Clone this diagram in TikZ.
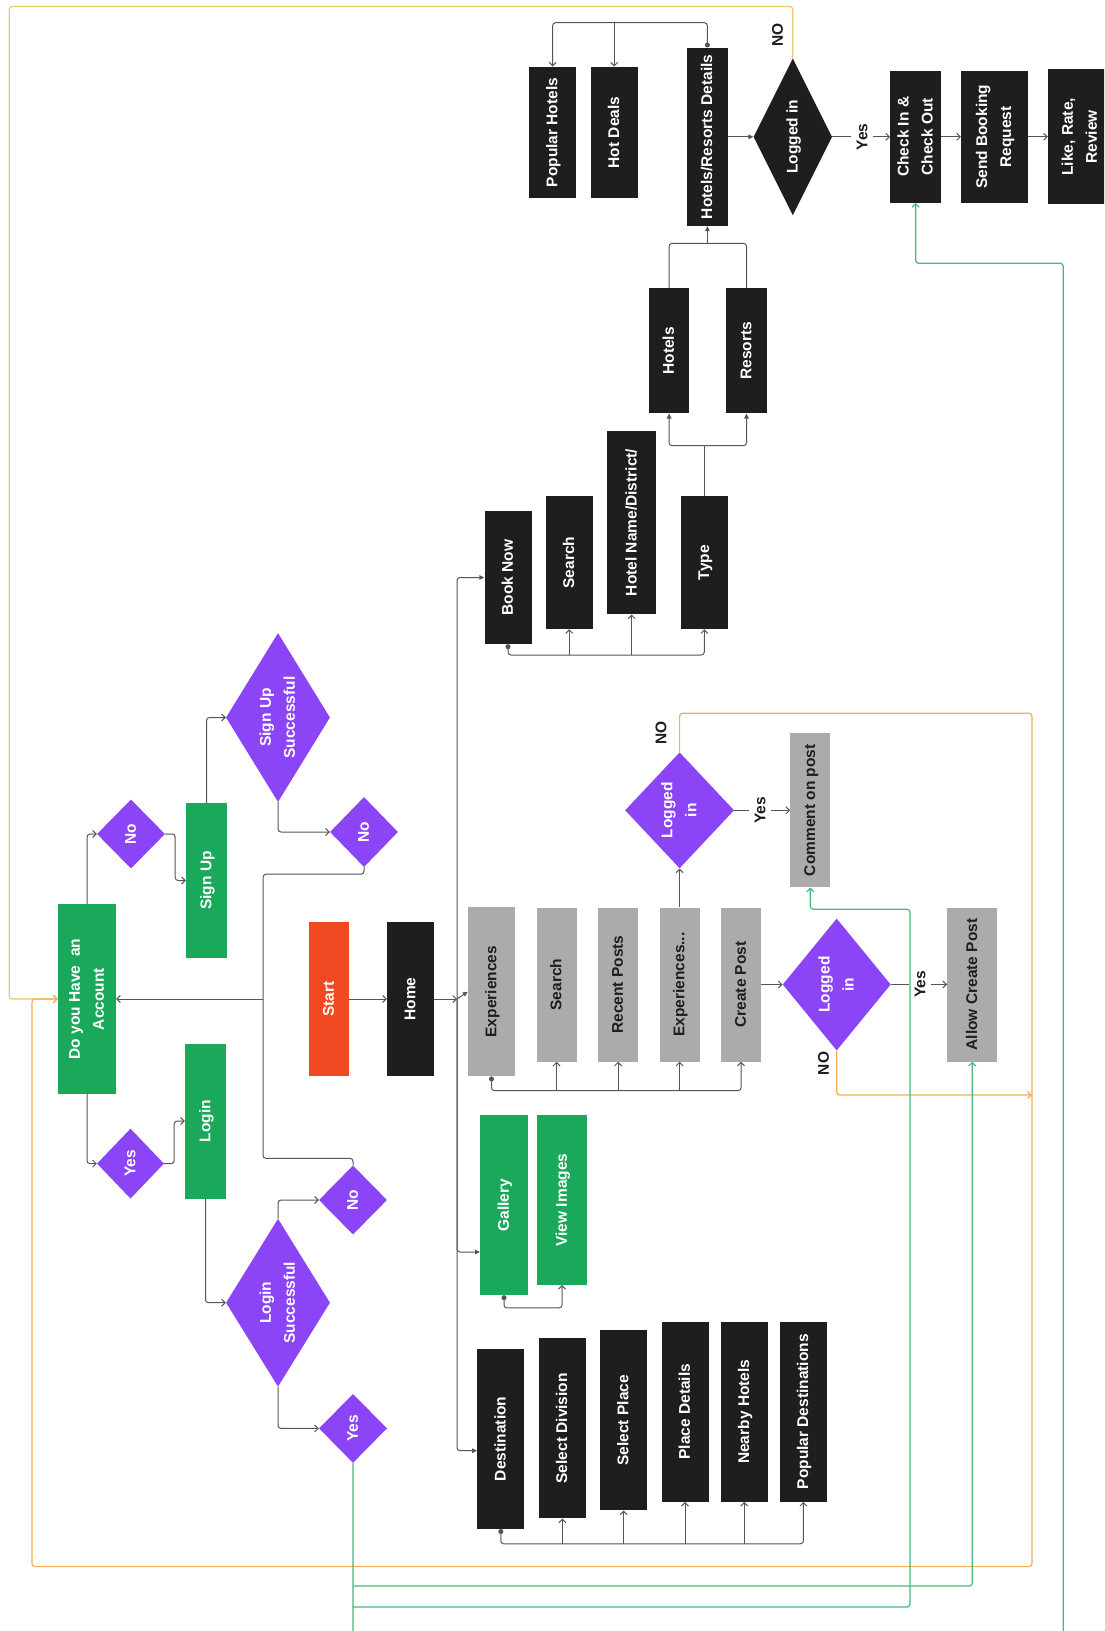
\documentclass[tikz,border=0pt]{standalone}
\usepackage{fontspec}
\setmainfont{Liberation Sans}
\usepackage{tikz}
\usepackage{xcolor}
\usetikzlibrary{shapes.geometric, arrows.meta}
\definecolor{boxgreen}{HTML}{1AA95B}
\definecolor{diapurple}{HTML}{8C45F6}
\definecolor{boxblack}{HTML}{1E1E1E}
\definecolor{boxgray}{HTML}{ABABAB}
\definecolor{startred}{HTML}{F04A23}
\definecolor{textdark}{HTML}{1E1E1E}
\definecolor{linegray}{HTML}{555555}
\definecolor{lineorange}{HTML}{F5AE55}
\definecolor{lineyellow}{HTML}{E9C870}
\definecolor{linegreen}{HTML}{48B97A}
\newcommand{\boxfont}{\bfseries\fontsize{15.5}{24}\selectfont}
\newcommand{\vtxt}[1]{\rotatebox{90}{\begin{tabular}{@{}c@{}}#1\end{tabular}}}
\newcommand{\rtxt}[1]{\rotatebox{90}{#1}}

\begin{document}
\begin{tikzpicture}[x=1pt, y=-1pt,
    sz/.style 2 args={minimum width=#1pt, minimum height=#2pt},
    dsz/.style n args={3}{minimum width=#1pt, minimum height=#2pt, aspect=#3},
    box/.style={rectangle, inner sep=0pt, text=white, font=\boxfont},
    gbox/.style={box, fill=boxgreen},
    kbox/.style={box, fill=boxblack},
    ybox/.style={box, fill=boxgray, text=textdark},
    dia/.style={diamond, inner sep=0pt, fill=diapurple, text=white, font=\boxfont},
    lbl/.style={inner xsep=5pt, inner ysep=0pt, text=textdark, font=\boxfont},
    line/.style={draw=linegray, line width=1pt, rounded corners=3pt},
    arr/.style={line, -{Straight Barb[length=3.5pt, width=7pt]}},
    arrf/.style={line, -{Triangle[length=5pt, width=4.5pt]}},
    dotarr/.style={line, {Circle[length=5pt]}-{Straight Barb[length=3.5pt, width=7pt]}},
    orng/.style={draw=lineorange, line width=1.2pt, rounded corners=3pt, -{Straight Barb[length=3.5pt, width=7pt]}},
    ylw/.style={orng, draw=lineyellow},
    grn/.style={draw=linegreen, line width=1.2pt, rounded corners=3pt, -{Straight Barb[length=3.5pt, width=7pt]}}]
    \useasboundingbox (0,0) rectangle (1104,1631);
    \clip (0,0) rectangle (1104,1631);

    % account boxes
    \node[box, fill=startred, sz={40}{154}] (start) at (329,999) {\vtxt{Start}};
    \node[kbox, sz={47}{154}] (home) at (410.5,999) {\vtxt{Home}};
    \node[gbox, sz={58}{190}] (account) at (87,999) {\vtxt{Do you Have\ \ an\\Account}};
    \node[dia, dsz={68}{69}{1}] (noacc) at (131,834) {\vtxt{No}};
    \node[dia, dsz={67}{70}{1}] (yesacc) at (130.5,1163.6) {\vtxt{Yes}};
    \node[gbox, sz={41}{155}] (signup) at (206.5,880.5) {\vtxt{Sign Up}};
    \node[gbox, sz={41}{155}] (login) at (205.5,1121) {\vtxt{Login}};
    \node[dia, dsz={104}{169}{0.62}] (signok) at (278,717.5) {\vtxt{Sign Up\\Successful}};
    \node[dia, dsz={104}{168}{0.62}] (loginok) at (278,1302.7) {\vtxt{Login\\Successful}};
    \node[dia, dsz={68}{70}{1}] (signno) at (364,832) {\vtxt{No}};
    \node[dia, dsz={68}{69}{1}] (loginno) at (353,1200) {\vtxt{No}};
    \node[dia, dsz={68}{69}{1}] (loginyes) at (353,1428.4) {\vtxt{Yes}};

    % experiences
    \node[ybox, sz={47}{169}] (exper) at (491.5,991.7) {\vtxt{Experiences}};
    \node[ybox, sz={40}{154}] (esearch) at (556.6,984.5) {\vtxt{Search}};
    \node[ybox, sz={40}{154}] (recent) at (618.1,984.5) {\vtxt{Recent Posts}};
    \node[ybox, sz={40}{154}] (expmore) at (679.6,984.5) {\vtxt{Experiences...}};
    \node[ybox, sz={40}{154}] (createp) at (741,984.5) {\vtxt{Create Post}};
    \node[dia, dsz={109}{116}{0.94}] (logc) at (679.6,810.3) {\vtxt{Logged\\in}};
    \node[dia, dsz={108}{132}{0.82}] (logp) at (836.7,984.5) {\vtxt{Logged\\in}};
    \node[ybox, sz={40}{154}] (comment) at (810.3,810.3) {\vtxt{Comment on post}};
    \node[ybox, sz={50}{154}] (allowp) at (972.3,984.5) {\vtxt{Allow Create Post}};

    % gallery and destination
    \node[gbox, sz={47.5}{180}] (gallery) at (504,1205) {\vtxt{Gallery}};
    \node[gbox, sz={49.6}{169.5}] (viewimg) at (562,1200) {\vtxt{View Images}};
    \node[kbox, sz={47}{180}] (dest) at (500.8,1438.8) {\vtxt{Destination}};
    \node[kbox, sz={47.4}{180}] (seldiv) at (562.4,1428.3) {\vtxt{Select Division}};
    \node[kbox, sz={47}{180}] (selplace) at (623.6,1420.3) {\vtxt{Select Place}};
    \node[kbox, sz={47}{180}] (placedet) at (685,1411.7) {\vtxt{Place Details}};
    \node[kbox, sz={47}{180}] (nearby) at (744.3,1411.7) {\vtxt{Nearby Hotels}};
    \node[kbox, sz={46.6}{180}] (popdest) at (803.4,1411.7) {\vtxt{Popular Destinations}};

    % hotels
    \node[kbox, sz={47}{133}] (booknow) at (508,577.5) {\vtxt{Book Now}};
    \node[kbox, sz={47.4}{133}] (hsearch) at (569.2,562.5) {\vtxt{Search}};
    \node[kbox, sz={49.5}{183.6}] (hname) at (631.7,522.5) {\vtxt{Hotel Name/District/}};
    \node[kbox, sz={47.4}{133}] (htype) at (704.3,562.5) {\vtxt{Type}};
    \node[kbox, sz={39.8}{125}] (hotels) at (669.1,350.8) {\vtxt{Hotels}};
    \node[kbox, sz={40.3}{125}] (resorts) at (746.5,350.8) {\vtxt{Resorts}};
    \node[kbox, sz={41.2}{178.3}] (hrd) at (707.4,136.8) {\vtxt{Hotels/Resorts Details}};
    \node[kbox, sz={47.4}{131.6}] (pophot) at (552.6,132.5) {\vtxt{Popular Hotels}};
    \node[kbox, sz={47.4}{131.6}] (hotdeals) at (614.2,132.5) {\vtxt{Hot Deals}};
    \node[diamond, inner sep=0pt, fill=boxblack, text=white, font=\boxfont, dsz={78.5}{157}{0.5}] (logb) at (792.8,136.8) {\vtxt{Logged in}};
    \node[kbox, sz={51}{132}] (checkin) at (915.7,136.8) {\vtxt{Check In \&\\Check Out}};
    \node[kbox, sz={66.6}{132}] (sendbr) at (994.4,136.8) {\vtxt{Send Booking\\Request}};
    \node[kbox, sz={64}{135}] (likerr) at (1080,136.8) {\vtxt{Like, Rate,\\Review}};

    % labels
    \node[lbl] (yesbook) at (862,136.8) {\rtxt{Yes}};
    \node[lbl] (yescomm) at (760,810.3) {\rtxt{Yes}};
    \node[lbl] (yespost) at (920,984.5) {\rtxt{Yes}};
    \node[lbl] (nobook) at (777.5,35) {\rtxt{NO}};
    \node[lbl] (nocomm) at (661,733.3) {\rtxt{NO}};
    \node[lbl] (nopost) at (823.5,1063.5) {\rtxt{NO}};

    % account connectors
    \coordinate (accjoin) at (263,999);
    \draw[arr] (start) -- (home);
    \draw[arr] (accjoin) -- (account.east);
    \draw[arr] (account.north) |- (noacc.west);
    \draw[arr] (noacc.east) -- ++(10,0) |- (signup.west);
    \draw[arr] (signup.north) |- (signok.west);
    \draw[arr] (signok.south) |- (signno.west);
    \draw[line] (signno.south) -- ++(0,7) -| (accjoin);
    \draw[arr] (account.south) |- (yesacc.west);
    \draw[arr] (yesacc.east) -- ++(10,0) |- (login.west);
    \draw[arr] (login.south) |- (loginok.west);
    \draw[arr] (loginok.north) |- (loginno.west);
    \draw[arr] (loginok.south) |- (loginyes.west);
    \draw[line] (loginno.north) -- ++(0,-7) -| (accjoin);

    % trunk from home
    \coordinate (hub) at (457,999);
    \draw[arr] (home) -- (hub);
    \draw[arrf] (hub) -- (exper.west);
    \draw[arrf] (hub) |- (booknow.west);
    \draw[arrf] (hub) |- (gallery.west |- 0,1252);
    \draw[arrf] (hub) |- (dest.west |- 0,1450.7);

    % experiences connectors
    \coordinate (expbus) at (0,1090.7);
    \draw[dotarr] (exper.south) |- (expbus -| createp.south) -- (createp.south);
    \draw[arr] (esearch.south |- expbus) -- (esearch.south);
    \draw[arr] (recent.south |- expbus) -- (recent.south);
    \draw[arr] (expmore.south |- expbus) -- (expmore.south);
    \draw[arr] (expmore.north) -- (logc.south);
    \draw[line] (logc.east) -- (yescomm.west);
    \draw[arr] (yescomm.east) -- (comment.west);
    \draw[arr] (createp.east) -- (logp.west);
    \draw[line] (logp.east) -- (yespost.west);
    \draw[arr] (yespost.east) -- (allowp.west);

    % gallery and destination connectors
    \coordinate (destbus) at (0,1543.8);
    \draw[dotarr] (gallery.south) -- ++(0,12.7) -| (viewimg.south);
    \draw[dotarr] (dest.south) |- (destbus -| popdest.south) -- (popdest.south);
    \draw[arr] (seldiv.south |- destbus) -- (seldiv.south);
    \draw[arr] (selplace.south |- destbus) -- (selplace.south);
    \draw[arr] (placedet.south |- destbus) -- (placedet.south);
    \draw[arr] (nearby.south |- destbus) -- (nearby.south);

    % hotel connectors
    \coordinate (bookbus) at (0,655);
    \coordinate (typesplit) at (704.3,445.7);
    \coordinate (hjoin) at (707.4,243.3);
    \coordinate (hrdbus) at (0,22.7);
    \draw[dotarr] (booknow.south) |- (bookbus -| htype.south) -- (htype.south);
    \draw[arr] (hsearch.south |- bookbus) -- (hsearch.south);
    \draw[arr] (hname.south |- bookbus) -- (hname.south);
    \draw[line] (htype.north) -- (typesplit);
    \draw[arrf] (typesplit) -| (hotels.south);
    \draw[arrf] (typesplit) -| (resorts.south);
    \draw[line] (hotels.north) |- (hjoin) -| (resorts.north);
    \draw[arrf] (hjoin) -- (hrd.south);
    \draw[dotarr] (hrd.north) |- (hrdbus -| pophot.north) -- (pophot.north);
    \draw[arr] (hotdeals.north |- hrdbus) -- (hotdeals.north);
    \draw[arrf] (hrd.east) -- (logb.west);
    \draw[line] (logb.east) -- (yesbook.west);
    \draw[arr] (yesbook.east) -- (checkin.west);
    \draw[arr] (checkin.east) -- (sendbr.west);
    \draw[arr] (sendbr.east) -- (likerr.west);

    % orange lines
    \coordinate (otl) at (9.3,6.5);
    \coordinate (otr) at (1031.9,713.3);
    \coordinate (obr) at (1031.9,1566.6);
    \coordinate (obl) at (32,1566.6);
    \draw[ylw] (logb.north) |- (otl) |- (account.west);
    \draw[orng] (logc.north) |- (otr) -- (obr) -- (obl) |- (account.west);
    \draw[orng] (logp.south) |- (otr |- 0,1095);

    % green lines
    \coordinate (gdown) at (353,1660);
    \coordinate (gright) at (1063.3,263.3);
    \coordinate (gcomm) at (910,909.3);
    \draw[grn] (loginyes.south) -- (gdown) -| (gright) -| (checkin.south);
    \draw[grn] (loginyes.south |- 0,1586) -| (allowp.south);
    \draw[grn] (loginyes.south |- 0,1607) -| (gcomm) -| (comment.south);
\end{tikzpicture}
\end{document}
